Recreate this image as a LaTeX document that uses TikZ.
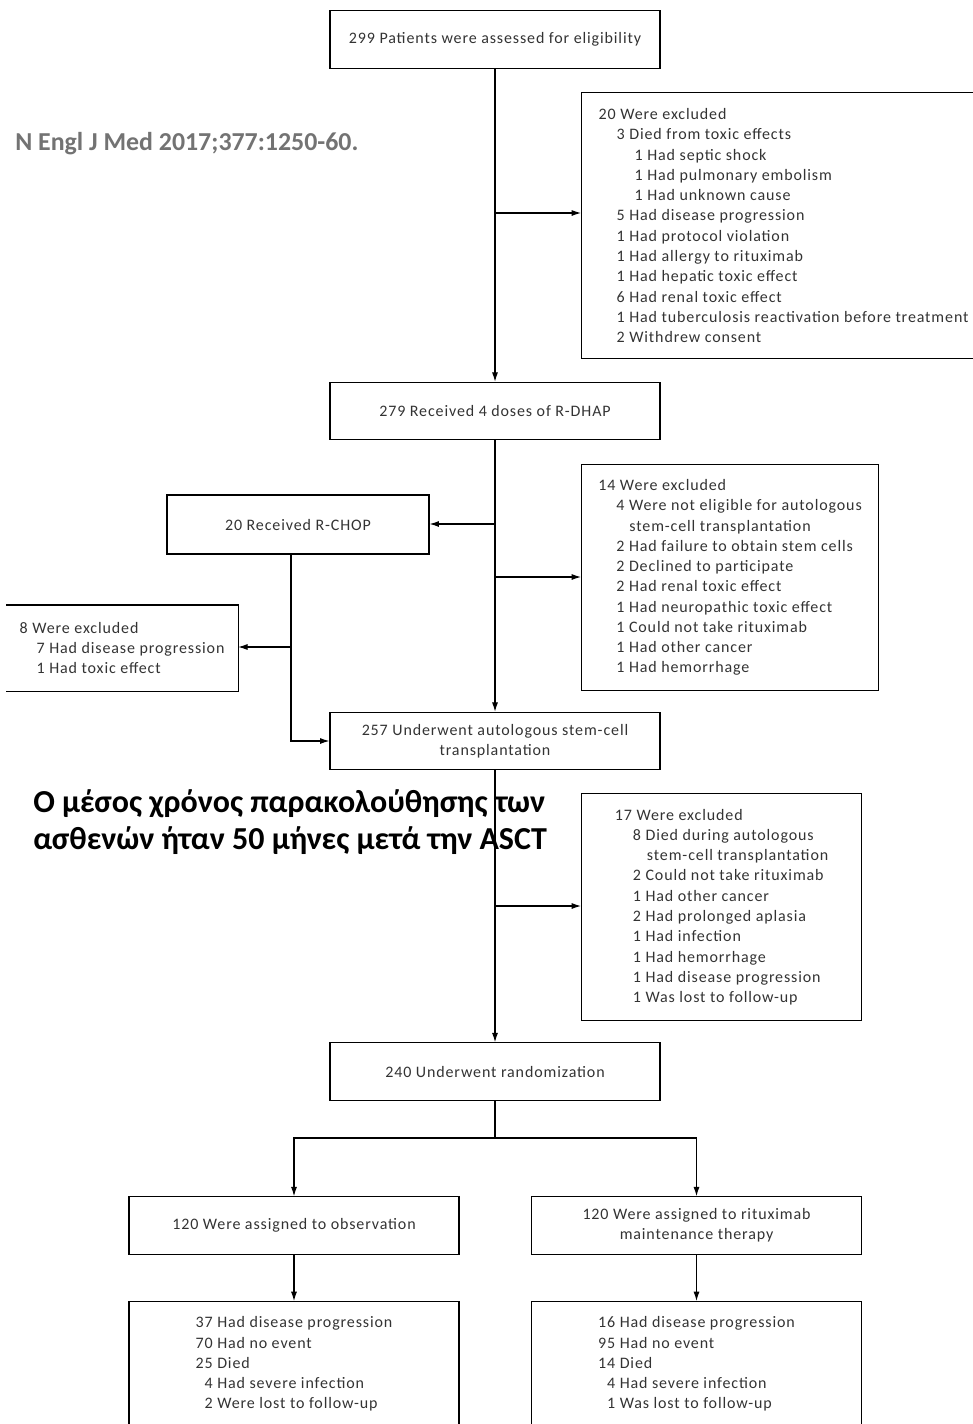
\documentclass[tikz,border=0pt]{standalone}
\usepackage{fontspec}
\setmainfont{Carlito}
\newfontfamily\chartfont{Carlito}[LetterSpace=5.5]
\usetikzlibrary{arrows.meta}

\newcommand{\lvla}{\hspace*{13.5pt}}
\newcommand{\lvlb}{\hspace*{27pt}}

\begin{document}
\begin{tikzpicture}[x=0.75pt,y=-0.75pt,
  every node/.style={font=\chartfont\fontsize{12pt}{15.2pt}\selectfont, text=black!80},
  stage/.style={draw, line width=0.9pt, align=center, minimum width=247.5pt, minimum height=43pt, inner sep=3pt},
  excl/.style={draw, line width=0.9pt, align=left, anchor=north west, inner sep=3pt},
  result/.style={draw, line width=0.9pt, align=left, anchor=north, minimum width=247.5pt, minimum height=93.75pt, inner sep=3pt},
  arr/.style={-{Latex[length=7pt,width=4.5pt]}, line width=0.8pt},
  link/.style={line width=0.8pt}]
\useasboundingbox (0,0) rectangle (973,1424);

% main stages
\node[stage] (assess) at (495,39.5) {299 Patients were assessed for eligibility};
\node[stage] (dhap) at (495,411) {279 Received 4 doses of R-DHAP};
\node[stage, minimum width=196.5pt, minimum height=44.25pt] (chop) at (298,524.5) {20 Received R-CHOP};
\node[stage] (asct) at (495,741) {257 Underwent autologous stem-cell\\transplantation};
\node[stage] (rand) at (495,1071.5) {240 Underwent randomization};
\node[stage] (obs) at (294,1225.5) {120 Were assigned to observation};
\node[stage] (ritux) at (696.5,1225.5) {120 Were assigned to rituximab\\maintenance therapy};

% exclusions
\node[excl, minimum width=303pt, minimum height=199.5pt] (excl1) at (581,92) {20 Were excluded\\
\lvla 3 Died from toxic effects\\
\lvlb 1 Had septic shock\\
\lvlb 1 Had pulmonary embolism\\
\lvlb 1 Had unknown cause\\
\lvla 5 Had disease progression\\
\lvla 1 Had protocol violation\\
\lvla 1 Had allergy to rituximab\\
\lvla 1 Had hepatic toxic effect\\
\lvla 6 Had renal toxic effect\\
\lvla 1 Had tuberculosis reactivation before treatment\\
\lvla 2 Withdrew consent};
\node[excl, minimum width=222.75pt, minimum height=169.5pt] (excl2) at (581,464) {14 Were excluded\\
\lvla 4 Were not eligible for autologous\\
\lvla\hspace*{9.75pt}stem-cell transplantation\\
\lvla 2 Had failure to obtain stem cells\\
\lvla 2 Declined to participate\\
\lvla 2 Had renal toxic effect\\
\lvla 1 Had neuropathic toxic effect\\
\lvla 1 Could not take rituximab\\
\lvla 1 Had other cancer\\
\lvla 1 Had hemorrhage};
\node[excl, draw=none, minimum width=173.25pt, minimum height=63.75pt] (excl3) at (6,605) {8 Were excluded\\
\hspace*{12.75pt}7 Had disease progression\\
\hspace*{12.75pt}1 Had toxic effect};
\draw[line width=0.9pt] (excl3.north west) -- (excl3.north east) -- (excl3.south east) -- (excl3.south west);
\node[excl, minimum width=210pt, minimum height=170.25pt] (excl4) at (581,793) {17 Were excluded\\
\lvla 8 Died during autologous\\
\lvla\hspace*{10.5pt}stem-cell transplantation\\
\lvla 2 Could not take rituximab\\
\lvla 1 Had other cancer\\
\lvla 2 Had prolonged aplasia\\
\lvla 1 Had infection\\
\lvla 1 Had hemorrhage\\
\lvla 1 Had disease progression\\
\lvla 1 Was lost to follow-up};

% outcomes
\node[result] (obsout) at (294,1301) {37 Had disease progression\\
70 Had no event\\
25 Died\\
\hspace*{6.75pt}4 Had severe infection\\
\hspace*{6.75pt}2 Were lost to follow-up};
\node[result] (rituxout) at (696.5,1301) {16 Had disease progression\\
95 Had no event\\
14 Died\\
\hspace*{6.75pt}4 Had severe infection\\
\hspace*{6.75pt}1 Was lost to follow-up};

% overlay texts
\node[anchor=base west, inner sep=0, text=black!55, font=\normalfont\bfseries\fontsize{19.4pt}{23pt}\selectfont] (cite) at (15,150) {N Engl J Med 2017;377:1250-60.};
\node[anchor=west, inner sep=0, align=left, text=black, font=\normalfont\bfseries\fontsize{24pt}{27.75pt}\selectfont] (note) at (33,822) {Ο μέσος χρόνος παρακολούθησης των\\ασθενών ήταν 50 μήνες μετά την ASCT};

% connectors
\coordinate (j1) at (495,213);
\coordinate (j2) at (495,524);
\coordinate (j3) at (495,577);
\coordinate (k1) at (291,647);
\coordinate (j4) at (495,906);
\coordinate (j5) at (495,1138);

\draw[arr] (assess) -- (dhap);
\draw[arr] (j1) -- (j1 -| excl1.west);
\draw[arr] (dhap) -- (asct);
\draw[arr] (j2) -- (j2 -| chop.east);
\draw[arr] (j3) -- (j3 -| excl2.west);
\draw[link] (chop.south -| k1) -- (k1);
\draw[arr] (k1) -- (k1 -| excl3.east);
\draw[arr] (k1) |- (asct.west);
\draw[arr] (asct) -- (rand);
\draw[arr] (j4) -- (j4 -| excl4.west);
\draw[link] (rand) -- (j5);
\draw[arr] (j5) -| (obs);
\draw[arr] (j5) -| (ritux);
\draw[arr] (obs) -- (obsout);
\draw[arr] (ritux) -- (rituxout);
\end{tikzpicture}
\end{document}
